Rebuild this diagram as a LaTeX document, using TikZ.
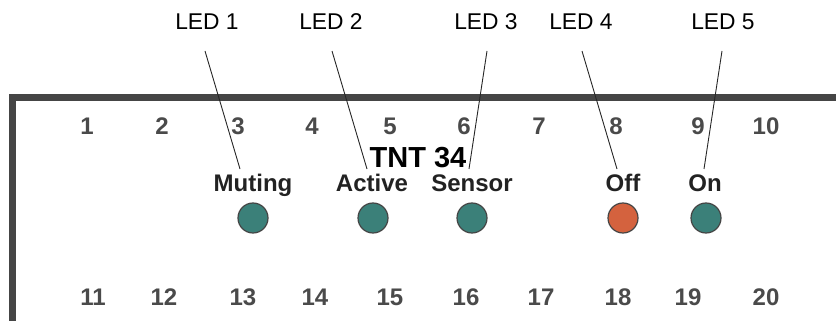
\documentclass[tikz,border=0pt]{standalone}
\usepackage{fontspec}
\setmainfont{Liberation Sans}
\usepackage{tikz}
\usetikzlibrary{positioning}
\definecolor{framegray}{RGB}{69,69,69}
\definecolor{numgray}{RGB}{74,74,74}
\definecolor{labelgray}{RGB}{34,34,34}
\definecolor{ledteal}{RGB}{59,128,121}
\definecolor{ledorange}{RGB}{212,98,62}
\tikzstyle{num} = [text=numgray, font=\bfseries\fontsize{24}{24}\selectfont, inner sep=0pt, anchor=base]
\tikzstyle{ledname} = [text=black, font=\fontsize{22.8}{22.8}\selectfont, inner sep=0pt, anchor=base]
\tikzstyle{ledlabel} = [text=labelgray, font=\bfseries\fontsize{24}{24}\selectfont, inner sep=0pt, anchor=base]
\tikzstyle{led} = [circle, draw=framegray, line width=1.2pt, fill=ledteal, minimum size=30pt, inner sep=0pt]
\tikzstyle{pointer} = [draw=black!85, line width=0.9pt]

\begin{document}
\begin{tikzpicture}[x=1pt, y=-1pt]
\useasboundingbox (0,0) rectangle (836,321);
%frame
\draw[line width=7pt, framegray] (840,97.5) -- (12,97.5) -- (12,330);

%pin numbers
\foreach \n/\x in {1/87, 2/162, 3/238, 4/312, 5/390, 6/464, 7/539, 8/616, 9/698, 10/766}
  \node[num] (p\n) at (\x,135) {\n};
\foreach \n/\x in {11/93, 12/164, 13/243, 14/315, 15/390, 16/466, 17/541, 18/618, 19/688, 20/766}
  \node[num] (p\n) at (\x,305) {\n};

%title
\node[text=black, font=\bfseries\fontsize{29}{29}\selectfont, inner sep=0pt, anchor=base] (title) at (418,167) {TNT 34};

%led labels
\node[ledlabel] (muting) at (253,191) {Muting};
\node[ledlabel] (active) at (372,191) {Active};
\node[ledlabel] (sensor) at (472,191) {Sensor};
\node[ledlabel] (off) at (623,191) {Off};
\node[ledlabel] (on) at (705,191) {On};

%leds
\node[led] (led1) at (253,218) {};
\node[led] (led2) at (373,218) {};
\node[led] (led3) at (472,218) {};
\node[led, fill=ledorange] (led4) at (623,218) {};
\node[led] (led5) at (706,218) {};

%led names
\node[ledname] (name1) at (207,30) {LED 1};
\node[ledname] (name2) at (331,30) {LED 2};
\node[ledname] (name3) at (486,30) {LED 3};
\node[ledname] (name4) at (581,30) {LED 4};
\node[ledname] (name5) at (723,30) {LED 5};

%pointer ends
\coordinate (a1) at (205,51);
\coordinate (b1) at (240,169);
\coordinate (a2) at (332,51);
\coordinate (b2) at (367,169);
\coordinate (a3) at (487,51);
\coordinate (b3) at (469,169);
\coordinate (a4) at (582,51);
\coordinate (b4) at (617,169);
\coordinate (a5) at (722,51);
\coordinate (b5) at (704,169);

%paths
\path[pointer] (a1) -- (b1);
\path[pointer] (a2) -- (b2);
\path[pointer] (a3) -- (b3);
\path[pointer] (a4) -- (b4);
\path[pointer] (a5) -- (b5);

\end{tikzpicture}
\end{document}
